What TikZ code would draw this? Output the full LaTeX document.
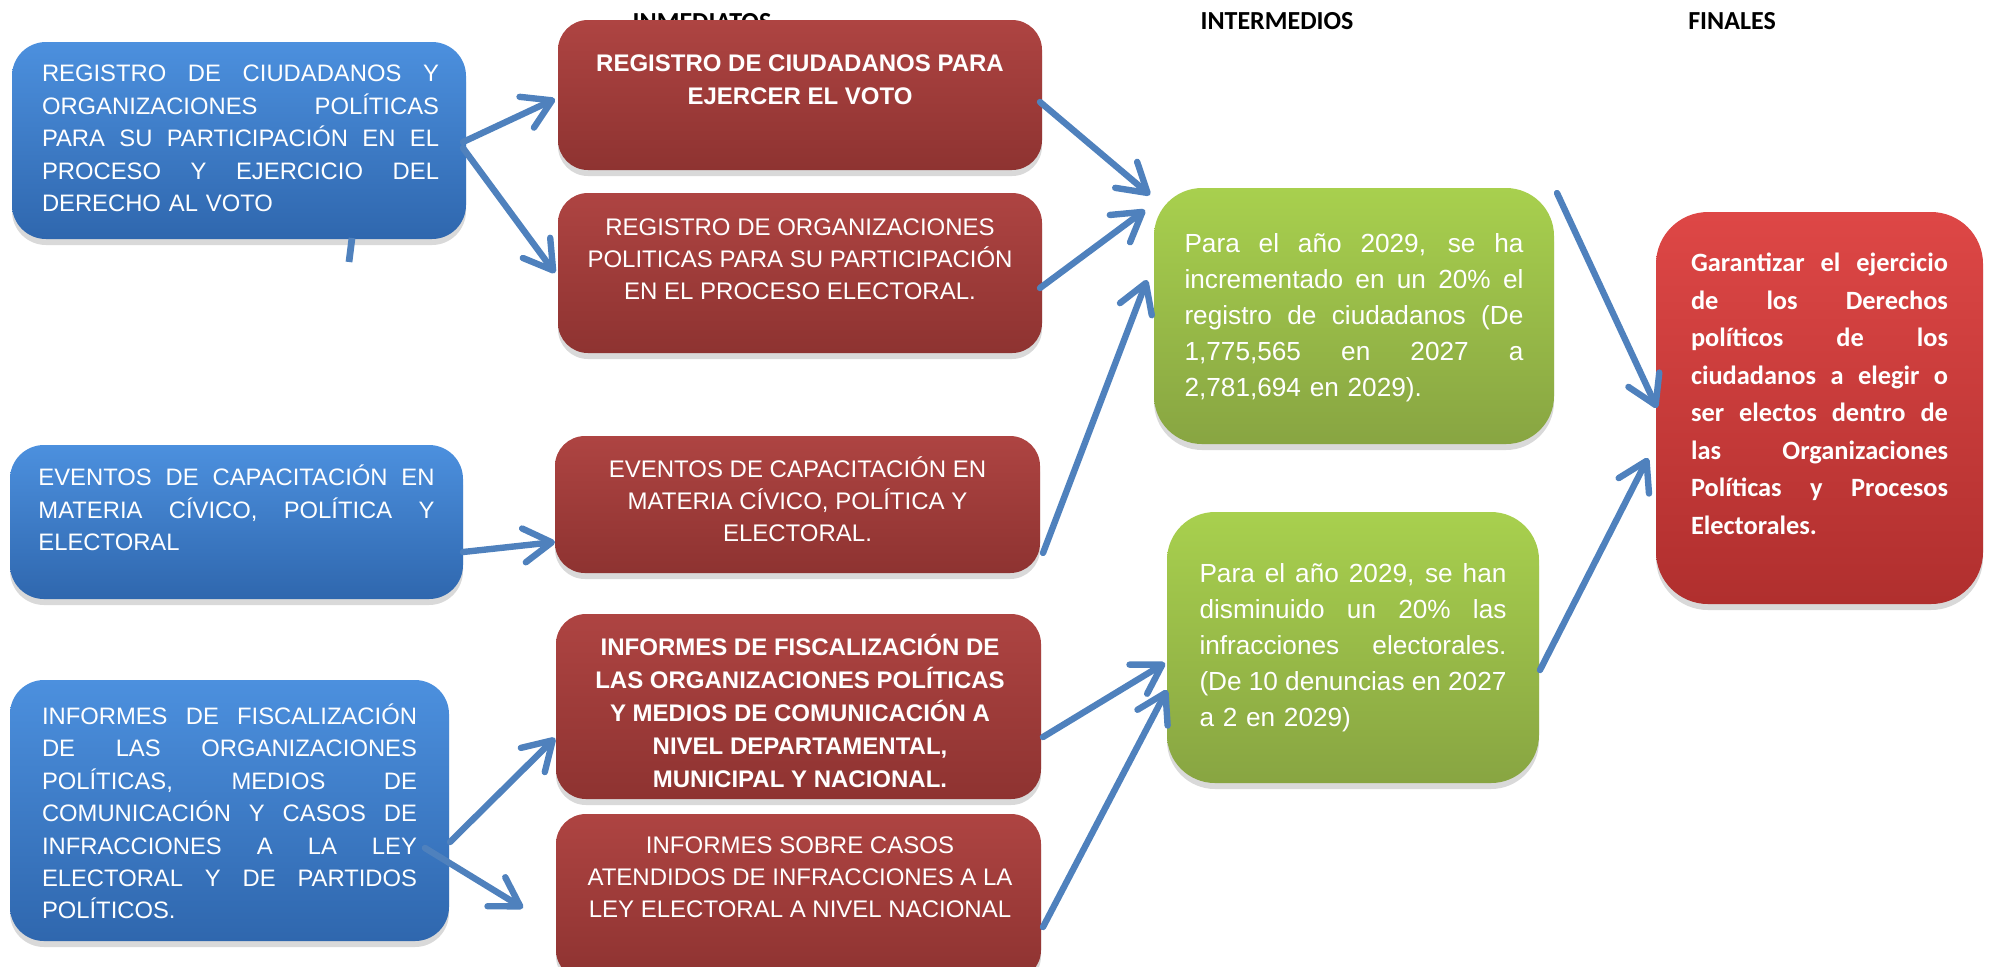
\documentclass[tikz,border=0pt]{standalone}
\usepackage{fontspec}
\setmainfont{Liberation Sans}
\newfontfamily\calfont{Carlito}
\usepackage{tikz}
\usetikzlibrary{arrows.meta,calc,shadows}
\definecolor{bluetop}{HTML}{4C90DE}
\definecolor{bluebot}{HTML}{2F67AE}
\definecolor{redtop}{HTML}{AE4442}
\definecolor{redbot}{HTML}{8E3331}
\definecolor{greentop}{HTML}{A8D04E}
\definecolor{greenbot}{HTML}{88A542}
\definecolor{fintop}{HTML}{DE4746}
\definecolor{finbot}{HTML}{B02F2E}
\definecolor{arrowblue}{HTML}{4F81BD}
\newcommand{\jl}[1]{{\spaceskip=0pt\xspaceskip=0pt\makebox[\hsize][s]{#1}}}
\tikzstyle{box}=[rectangle, inner sep=0pt, outer sep=0pt, drop shadow={shadow xshift=0pt, shadow yshift=-3pt, opacity=0.3}]
\tikzstyle{blue_box}=[box, rounded corners=17pt, top color=bluetop, bottom color=bluebot]
\tikzstyle{red_box}=[box, rounded corners=15pt, top color=redtop, bottom color=redbot]
\tikzstyle{green_box}=[box, rounded corners=24pt, top color=greentop, bottom color=greenbot]
\tikzstyle{final_box}=[box, rounded corners=26pt, top color=fintop, bottom color=finbot]
\tikzstyle{blue_txt}=[text=white, align=left, inner sep=0pt, font=\fontsize{11.9}{16.2}\selectfont]
\tikzstyle{red_txt}=[text=white, align=center, inner sep=0pt, font=\fontsize{12}{16}\selectfont]
\tikzstyle{red_bold}=[red_txt, font=\bfseries\fontsize{12}{16.5}\selectfont]
\tikzstyle{green_txt}=[text=white, align=left, inner sep=0pt, font=\fontsize{13.1}{18}\selectfont]
\tikzstyle{final_txt}=[text=white, align=left, inner sep=0pt, font=\calfont\bfseries\fontsize{13.2}{18.75}\selectfont]
\tikzstyle{head_txt}=[inner sep=0pt, font=\calfont\bfseries\fontsize{13}{15}\selectfont]
\tikzstyle{link}=[-{Straight Barb[round,length=14pt,width=17pt]}, draw=arrowblue, line width=3.2pt, line cap=round]
\tikzstyle{stub}=[-, draw=arrowblue, line width=3.4pt]

\begin{document}
\begin{tikzpicture}[x=0.5pt,y=-0.5pt]
        \clip (0,0) rectangle (1991,966);
        \node [head_txt] (h0) at (702,22) {INMEDIATOS};
        \node [head_txt] (h1) at (1277,21) {INTERMEDIOS};
        \node [head_txt] (h2) at (1732,21) {FINALES};

        \node [blue_box, minimum width=227pt, minimum height=98.5pt] (0) at (239,140.5) {};
        \node [blue_box, minimum width=226.5pt, minimum height=77pt] (1) at (236.5,522) {};
        \node [blue_box, minimum width=219.5pt, minimum height=130.5pt] (2) at (229.5,810.5) {};
        \node [red_box, minimum width=242pt, minimum height=75pt] (3) at (800,95) {};
        \node [red_box, minimum width=242pt, minimum height=80pt] (4) at (800,273) {};
        \node [red_box, minimum width=242.5pt, minimum height=68.5pt] (5) at (797.5,504.5) {};
        \node [red_box, minimum width=242.5pt, minimum height=92.5pt] (6) at (798.5,706.5) {};
        \node [red_box, minimum width=242.5pt, minimum height=83pt] (7) at (798.5,897) {};
        \node [green_box, minimum width=200pt, minimum height=128pt] (8) at (1354,316) {};
        \node [green_box, minimum width=186pt, minimum height=135.5pt] (9) at (1353,647.5) {};
        \node [final_box, minimum width=163.5pt, minimum height=196pt] (10) at (1819.5,408) {};

        \node [blue_txt, text width=198.5pt] (t0) at ($(0)+(1.5,-2)$) {\jl{REGISTRO DE CIUDADANOS Y}\\ \jl{ORGANIZACIONES POLÍTICAS}\\ \jl{PARA SU PARTICIPACIÓN EN EL}\\ \jl{PROCESO Y EJERCICIO DEL}\\ DERECHO AL VOTO};
        \node [blue_txt, text width=198pt] (t1) at ($(1)+(0,-14)$) {\jl{EVENTOS DE CAPACITACIÓN EN}\\ \jl{MATERIA CÍVICO, POLÍTICA Y}\\ ELECTORAL};
        \node [blue_txt, text width=187.5pt] (t2) at ($(2)+(0,1)$) {\jl{INFORMES DE FISCALIZACIÓN}\\ \jl{DE LAS ORGANIZACIONES}\\ \jl{POLÍTICAS, MEDIOS DE}\\ \jl{COMUNICACIÓN Y CASOS DE}\\ \jl{INFRACCIONES A LA LEY}\\ \jl{ELECTORAL Y DE PARTIDOS}\\ POLÍTICOS.};
        \node [red_bold] (t3) at ($(3)+(0,-15.5)$) {REGISTRO DE CIUDADANOS PARA\\ EJERCER EL VOTO};
        \node [red_txt] (t4) at ($(4)+(0,-14)$) {REGISTRO DE ORGANIZACIONES\\ POLITICAS PARA SU PARTICIPACIÓN\\ EN EL PROCESO ELECTORAL.};
        \node [red_txt] (t5) at ($(5)+(0,-5.5)$) {EVENTOS DE CAPACITACIÓN EN\\ MATERIA CÍVICO, POLÍTICA Y\\ ELECTORAL.};
        \node [red_bold] (t6) at ($(6)+(1.5,4)$) {INFORMES DE FISCALIZACIÓN DE\\ LAS ORGANIZACIONES POLÍTICAS\\ Y MEDIOS DE COMUNICACIÓN A\\ NIVEL DEPARTAMENTAL,\\ MUNICIPAL Y NACIONAL.};
        \node [red_txt] (t7) at ($(7)+(1.5,-19.5)$) {INFORMES SOBRE CASOS\\ ATENDIDOS DE INFRACCIONES A LA\\ LEY ELECTORAL A NIVEL NACIONAL};
        \node [green_txt, text width=169.5pt] (t8) at ($(8)+(0,1.5)$) {\jl{Para el año 2029, se ha}\\ \jl{incrementado en un 20\% el}\\ \jl{registro de ciudadanos (De}\\ \jl{1,775,565 en 2027 a}\\ 2,781,694 en 2029).};
        \node [green_txt, text width=153.5pt] (t9) at (9) {\jl{Para el año 2029, se han}\\ \jl{disminuido un 20\% las}\\ \jl{infracciones electorales.}\\ \jl{(De 10 denuncias en 2027}\\ a 2 en 2029)};
        \node [final_txt, text width=128.5pt] (t10) at ($(10)+(0,-14)$) {\jl{Garantizar el ejercicio}\\ \jl{de los Derechos}\\ \jl{políticos de los}\\ \jl{ciudadanos a elegir o}\\ \jl{ser electos dentro de}\\ \jl{las Organizaciones}\\ \jl{Políticas y Procesos}\\ Electorales.};

        \coordinate (s) at ($(0.south)+(110,23)$);
        \draw[style={stub}]{} ($(0.south)+(113,-1)$) to (s);
        \draw[style={link}]{} ($(0.east)+(-3,1.5)$) to ($(3.west)+(-3,4)$);
        \draw[style={link}]{} ($(0.east)+(-3,7.5)$) to ($(4.west)+(-3,0)$);
        \draw[style={link}]{} ($(1.east)+(0,30)$) to ($(5.west)+(0,37.5)$);
        \draw[style={link}]{} ($(2.east)+(1,31.5)$) to ($(6.west)+(-1,31.5)$);
        \draw[style={link}]{} ($(2.east)+(-24,37.5)$) to ($(7.west)+(-33,11)$);
        \draw[style={link}]{} ($(3.east)+(-2,7)$) to ($(8.north west)+(-4,7)$);
        \draw[style={link}]{} ($(4.east)+(-2,15)$) to ($(8.north west)+(-9,22)$);
        \draw[style={link}]{} ($(5.east)+(3,48.5)$) to ($(8.west)+(-7,-36)$);
        \draw[style={link}]{} ($(6.east)+(2,30.5)$) to ($(9.west)+(-2,15.5)$);
        \draw[style={link}]{} ($(7.east)+(2,30)$) to ($(9.west)+(0,42.5)$);
        \draw[style={link}]{} ($(8.north east)+(3,5)$) to ($(10.west)+(1,0)$);
        \draw[style={link}]{} ($(9.east)+(1,22.5)$) to ($(10.west)+(-8,50)$);
    \end{tikzpicture}
\end{document}
